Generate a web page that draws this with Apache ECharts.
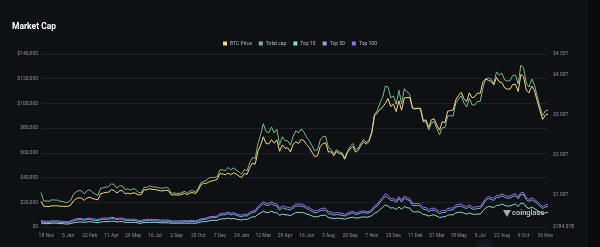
<!DOCTYPE html>
<html><head><meta charset="utf-8">
<script src="https://cdn.jsdelivr.net/npm/echarts@6/dist/echarts.min.js"></script>
<style>html,body{margin:0;padding:0;background:#0b0c0e;}#c{width:600px;height:247px;}</style>
</head><body><div id="c"></div>
<script>
// Dates: every 6 days starting 6 Nov 2022 (index 2 = 18 Nov 2022)
const startDate = '2022-11-06';
const stepDays = 6;
const pointCount = 188;
// BTC price, thousands of USD
const btcPrice = [20.9,16.8,16.7,16.6,17.2,17.1,17.2,16.8,16.8,16.6,
16.8,17.9,21.2,22.9,23.7,23.3,21.6,23.5,24.2,23.1,
22.4,22.1,26.9,27.5,28.0,28.2,30.2,29.4,27.6,29.3,
29.5,26.9,27.4,26.8,27.7,27.1,25.9,26.3,30.0,30.1,
31.0,30.4,30.3,29.9,29.3,29.2,29.8,29.2,26.1,26.0,
25.9,25.9,26.5,27.2,26.2,27.5,27.9,26.9,29.7,34.2,
35.4,35.4,36.5,37.3,37.7,38.7,43.3,42.9,42.3,43.6,
42.3,43.9,42.8,41.3,40.0,43.3,42.6,48.3,51.7,50.8,
61.2,66.1,73.0,67.6,67.2,70.7,67.8,70.5,61.3,66.4,
63.8,64.0,60.8,67.0,68.9,67.6,71.0,69.7,66.6,64.2,
60.3,57.0,57.7,65.1,67.6,68.2,60.7,60.9,57.6,61.2,
59.4,59.1,54.8,60.0,63.2,65.2,60.6,62.1,66.0,69.0,
67.0,69.5,75.9,90.0,92.3,95.0,97.2,99.9,104.0,97.5,
99.4,93.4,102.1,94.5,104.4,104.8,104.7,96.6,95.8,95.8,
96.1,86.0,86.7,80.6,86.8,87.5,82.5,78.4,85.3,84.4,
93.7,94.2,94.7,102.8,106.4,109.0,104.0,101.5,108.6,104.5,
105.5,108.4,108.2,117.5,119.8,118.7,117.9,115.0,121.0,117.5,
116.9,112.6,111.7,111.5,115.4,115.3,109.6,123.5,121.7,110.8,
108.5,114.1,110.6,102.3,94.4,87.0,90.5,91.3];
// Total market cap, trillions of USD
const totalCap = [1.05,0.84,0.84,0.83,0.87,0.86,0.86,0.83,0.83,0.80,
0.81,0.86,1.01,1.07,1.10,1.09,1.01,1.10,1.12,1.05,
1.01,0.98,1.16,1.17,1.19,1.20,1.27,1.25,1.16,1.22,
1.22,1.12,1.14,1.11,1.15,1.12,1.05,1.05,1.18,1.18,
1.22,1.19,1.19,1.18,1.16,1.16,1.18,1.16,1.04,1.04,
1.03,1.03,1.05,1.08,1.04,1.09,1.10,1.06,1.16,1.30,
1.33,1.36,1.42,1.43,1.43,1.45,1.62,1.62,1.60,1.68,
1.62,1.67,1.62,1.57,1.51,1.63,1.60,1.80,1.93,1.90,
2.27,2.50,2.78,2.58,2.55,2.70,2.55,2.64,2.25,2.45,
2.35,2.35,2.24,2.46,2.60,2.55,2.65,2.56,2.44,2.35,
2.22,2.10,2.13,2.37,2.46,2.46,2.18,2.13,2.02,2.13,
2.07,2.05,1.92,2.08,2.20,2.28,2.13,2.17,2.29,2.38,
2.31,2.38,2.58,3.02,3.10,3.30,3.44,3.72,3.70,3.43,
3.48,3.27,3.62,3.28,3.66,3.58,3.52,3.16,3.15,3.18,
3.12,2.82,2.83,2.62,2.80,2.83,2.66,2.50,2.68,2.68,
2.97,2.98,2.97,3.30,3.40,3.48,3.30,3.20,3.42,3.25,
3.25,3.34,3.34,3.68,3.90,3.93,3.90,3.78,4.08,4.00,
4.05,3.88,3.85,3.86,3.99,4.00,3.78,4.25,4.18,3.80,
3.70,3.90,3.75,3.48,3.22,2.98,3.10,3.12];
// Top 100 / Top 50 / Top 10, trillions of USD (right axis)
const top100 = [0.36,0.33,0.33,0.33,0.34,0.34,0.34,0.33,0.33,0.32,
0.32,0.34,0.37,0.39,0.40,0.40,0.38,0.40,0.41,0.39,
0.38,0.37,0.40,0.41,0.41,0.41,0.43,0.42,0.40,0.41,
0.41,0.38,0.38,0.38,0.38,0.37,0.35,0.35,0.37,0.37,
0.38,0.37,0.37,0.37,0.36,0.36,0.36,0.36,0.34,0.34,
0.34,0.34,0.34,0.35,0.34,0.35,0.35,0.34,0.36,0.39,
0.40,0.41,0.44,0.45,0.45,0.46,0.52,0.53,0.53,0.56,
0.53,0.55,0.52,0.50,0.48,0.51,0.50,0.55,0.59,0.60,
0.70,0.76,0.82,0.78,0.78,0.82,0.78,0.76,0.66,0.72,
0.69,0.68,0.66,0.71,0.76,0.76,0.76,0.74,0.70,0.67,
0.62,0.59,0.60,0.64,0.66,0.65,0.57,0.56,0.53,0.55,
0.54,0.53,0.50,0.53,0.56,0.58,0.54,0.55,0.58,0.59,
0.57,0.58,0.62,0.72,0.76,0.85,0.93,1.02,0.98,0.90,
0.91,0.85,0.95,0.86,0.96,0.92,0.90,0.78,0.77,0.78,
0.75,0.68,0.67,0.62,0.65,0.66,0.62,0.57,0.60,0.60,
0.65,0.66,0.66,0.74,0.75,0.76,0.72,0.70,0.74,0.69,
0.68,0.70,0.70,0.80,0.90,0.95,0.93,0.90,0.98,0.98,
1.02,0.98,0.96,0.96,1.00,1.02,0.94,1.05,1.05,0.92,
0.88,0.92,0.88,0.82,0.76,0.70,0.74,0.75];
const top50 = [0.33,0.30,0.30,0.30,0.31,0.31,0.31,0.30,0.30,0.29,
0.29,0.31,0.34,0.36,0.37,0.37,0.35,0.37,0.38,0.36,
0.35,0.34,0.37,0.38,0.38,0.38,0.40,0.39,0.37,0.38,
0.38,0.35,0.35,0.35,0.35,0.34,0.32,0.32,0.34,0.34,
0.35,0.34,0.34,0.34,0.33,0.33,0.33,0.33,0.31,0.31,
0.31,0.31,0.31,0.32,0.31,0.32,0.32,0.31,0.33,0.36,
0.37,0.38,0.41,0.42,0.42,0.43,0.48,0.49,0.49,0.52,
0.49,0.51,0.48,0.46,0.44,0.47,0.46,0.51,0.55,0.56,
0.65,0.71,0.77,0.73,0.73,0.77,0.73,0.71,0.61,0.67,
0.64,0.63,0.61,0.66,0.71,0.71,0.71,0.69,0.65,0.62,
0.57,0.54,0.55,0.59,0.61,0.60,0.52,0.51,0.48,0.50,
0.49,0.48,0.46,0.49,0.52,0.54,0.50,0.51,0.54,0.55,
0.53,0.54,0.58,0.67,0.71,0.80,0.88,0.96,0.92,0.85,
0.86,0.80,0.90,0.81,0.91,0.87,0.85,0.73,0.72,0.73,
0.70,0.63,0.62,0.57,0.60,0.61,0.57,0.52,0.55,0.55,
0.60,0.61,0.61,0.69,0.70,0.71,0.67,0.65,0.69,0.64,
0.63,0.65,0.65,0.75,0.85,0.90,0.88,0.85,0.93,0.93,
0.97,0.93,0.91,0.91,0.95,0.97,0.89,1.00,1.00,0.87,
0.83,0.87,0.83,0.77,0.71,0.65,0.69,0.70];
const top10 = [0.29,0.27,0.27,0.27,0.28,0.28,0.28,0.27,0.27,0.26,
0.26,0.27,0.29,0.30,0.31,0.31,0.30,0.31,0.32,0.31,
0.30,0.29,0.31,0.32,0.32,0.32,0.33,0.33,0.31,0.32,
0.32,0.30,0.30,0.30,0.30,0.30,0.28,0.28,0.30,0.30,
0.30,0.30,0.30,0.30,0.29,0.29,0.29,0.29,0.28,0.28,
0.28,0.28,0.28,0.28,0.28,0.28,0.28,0.28,0.29,0.31,
0.32,0.32,0.34,0.35,0.35,0.35,0.38,0.39,0.39,0.41,
0.39,0.40,0.38,0.37,0.36,0.38,0.37,0.41,0.44,0.44,
0.50,0.54,0.58,0.55,0.55,0.58,0.55,0.54,0.48,0.51,
0.49,0.49,0.47,0.51,0.55,0.55,0.55,0.54,0.51,0.49,
0.46,0.44,0.44,0.47,0.48,0.48,0.42,0.41,0.39,0.41,
0.40,0.40,0.38,0.40,0.42,0.43,0.41,0.41,0.43,0.44,
0.43,0.44,0.47,0.53,0.56,0.62,0.68,0.74,0.71,0.66,
0.67,0.62,0.69,0.63,0.70,0.67,0.66,0.57,0.56,0.57,
0.55,0.50,0.49,0.46,0.48,0.49,0.46,0.42,0.44,0.44,
0.48,0.49,0.49,0.54,0.55,0.56,0.53,0.51,0.54,0.51,
0.50,0.51,0.51,0.59,0.66,0.70,0.69,0.67,0.73,0.73,
0.76,0.73,0.71,0.71,0.74,0.76,0.70,0.78,0.78,0.68,
0.65,0.68,0.65,0.60,0.56,0.52,0.54,0.55];
const leftTicks = [0,20,40,60,80,100,120,140];
const rightTicks = [0.18457,1,2,3,4,4.53];
const seriesNames = ['BTC Price','Total cap','Top 10','Top 50','Top 100'];
const colors = ['#f2d68c','#7fb58c','#8fd8d2','#86a6e0','#8b76dc'];

const MONTHS = ['Jan','Feb','Mar','Apr','May','Jun','Jul','Aug','Sep','Oct','Nov','Dec'];
const categories = [];
{
  const d0 = new Date(startDate + 'T00:00:00Z');
  for (let i = 0; i < pointCount; i++) {
    const d = new Date(d0.getTime() + i * stepDays * 86400000);
    categories.push(d.getUTCDate() + ' ' + MONTHS[d.getUTCMonth()]);
  }
}

const chart = echarts.init(document.getElementById('c'), null, {renderer:'canvas'});
const FONT = 'Roboto, "Noto Sans", sans-serif';
chart.setOption({
  backgroundColor: '#0e1013',
  animation: false,
  title: {text:'Market Cap', left:7, top:17, textStyle:{color:'#ffffff', fontSize:8.5, fontWeight:'bold', fontFamily:FONT}},
  legend: {
    data: seriesNames, top:36, left:'center', itemWidth:4, itemHeight:4, itemGap:7,
    icon:'rect', textStyle:{color:'#b8bcc4', fontSize:5, fontFamily:FONT, padding:[0,0,0,-2]}
  },
  grid: {left:41, right:52, top:54, bottom:20},
  xAxis: {
    type:'category', data:categories, boundaryGap:false,
    axisLine:{show:false}, axisTick:{show:false}, splitLine:{show:false},
    axisLabel:{color:'#8d929b', fontSize:5, fontFamily:FONT, margin:6,
      interval:function(idx){return (idx-2)%8===0;}}
  },
  yAxis: [
    {type:'value', min:0, max:140, interval:20, position:'left',
     axisLine:{show:false}, axisTick:{show:false},
     splitLine:{lineStyle:{color:'#1c2024', width:1}},
     axisLabel:{color:'#8d929b', fontSize:5, fontFamily:FONT, margin:3,
       formatter:function(v){return '$' + (v*1000).toLocaleString('en-US');}}},
    {type:'value', min:rightTicks[0], max:rightTicks[rightTicks.length-1], position:'right',
     axisLine:{show:false}, axisTick:{show:false}, splitLine:{show:false},
     axisLabel:{color:'#8d929b', fontSize:5, fontFamily:FONT, margin:5, customValues:rightTicks,
       formatter:function(v){return v < 1 ? '$' + (v*1000).toFixed(2) + 'B' : '$' + v.toFixed(2) + 'T';}}}
  ],
  graphic: [
    {type:'rect', left:588, top:0, shape:{width:12, height:247}, style:{fill:'#0a0a0b'}, z:-1},
    {type:'ellipse', shape:{cx:485, cy:250, rx:50, ry:12}, style:{fill:{type:'radial', x:0.5, y:0.5, r:0.5,
      colorStops:[{offset:0, color:'rgba(60,70,140,0.35)'},{offset:1, color:'rgba(60,70,140,0)'}]}}, z:-1},
    {type:'text', left:512, top:209, style:{text:'coinglass', fill:'rgba(235,235,240,0.75)', font:'bold 7.5px ' + FONT}},
    {type:'polygon', shape:{points:[[503,210],[511,210],[507,217]]}, style:{fill:'rgba(235,235,240,0.7)'}}
  ],
  series: [
    {name:'BTC Price', type:'line', yAxisIndex:0, data:btcPrice, showSymbol:false, lineStyle:{width:1, color:colors[0]}, itemStyle:{color:colors[0]}, z:4},
    {name:'Total cap', type:'line', yAxisIndex:1, data:totalCap, showSymbol:false, lineStyle:{width:1, color:colors[1]}, itemStyle:{color:colors[1]}, z:3},
    {name:'Top 10', type:'line', yAxisIndex:1, data:top10, showSymbol:false, lineStyle:{width:1, color:colors[2]}, itemStyle:{color:colors[2]}},
    {name:'Top 50', type:'line', yAxisIndex:1, data:top50, showSymbol:false, lineStyle:{width:1, color:colors[3]}, itemStyle:{color:colors[3]}},
    {name:'Top 100', type:'line', yAxisIndex:1, data:top100, showSymbol:false, lineStyle:{width:1, color:colors[4]}, itemStyle:{color:colors[4]}}
  ]
});
</script></body></html>
